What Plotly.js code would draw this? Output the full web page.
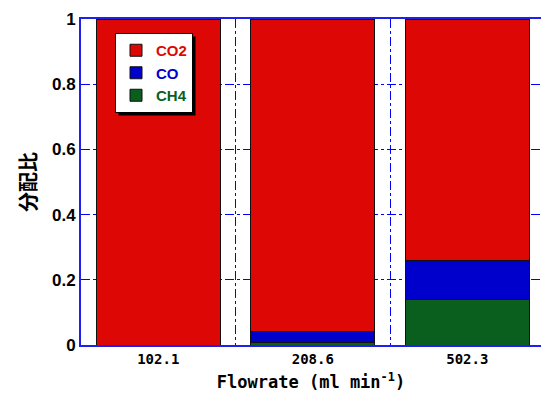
<!DOCTYPE html>
<html>
<head>
<meta charset="utf-8">
<script src="https://cdn.plot.ly/plotly-3.0.1.min.js"></script>
<style>html,body{margin:0;padding:0;background:#fff;}</style>
</head>
<body>
<div id="chart" style="width:541px;height:397px;"></div>
<script>
const categories = ["102.1", "208.6", "502.3"];
const ch4 = [0.0, 0.008, 0.14];
const co = [0.0, 0.033, 0.12];
const co2 = [1.0, 0.959, 0.74];

const red = "#dd0805", blue = "#0000cc", green = "#0a5f1f";
const line = {color: "#111", width: 1};

const traces = [
  {type: "bar", name: '<span style="color:' + green + '">CH4</span>', x: categories, y: ch4, marker: {color: green, line: line}, width: 0.8},
  {type: "bar", name: '<span style="color:' + blue + '">CO</span>', x: categories, y: co, marker: {color: blue, line: line}, width: 0.8},
  {type: "bar", name: '<span style="color:' + red + '">CO2</span>', x: categories, y: co2, marker: {color: red, line: line}, width: 0.8}
];

const L = 81, T = 19, W = 460, H = 326;
const layout = {
  width: 541, height: 397,
  margin: {l: L, r: 0, t: T, b: 52, autoexpand: false},
  barmode: "stack",
  plot_bgcolor: "#fff", paper_bgcolor: "#fff",
  showlegend: true,
  legend: {
    x: (115 - L)/W, xanchor: "left", y: (H + T - 33)/H, yanchor: "top",
    bgcolor: "#fff", bordercolor: "#000", borderwidth: 1,
    traceorder: "reversed",
    font: {family: "Liberation Sans Narrow, Liberation Sans, sans-serif", size: 15, color: "#000", weight: "bold"},
    itemwidth: 30, tracegroupgap: 0
  },
  xaxis: {
    type: "category", range: [-0.5, 2.477],
    tickson: "boundaries", ticks: "", showgrid: true,
    gridcolor: "#0000ff", griddash: "dashdot", gridwidth: 1,
    showline: true, linecolor: "#2020ee", linewidth: 2, mirror: true,
    tickfont: {family: "DejaVu Sans Mono, monospace", size: 14, color: "#000", weight: "bold"},
    title: {text: "Flowrate (ml min<sup>-1</sup>)", font: {family: "DejaVu Sans Mono, monospace", size: 17, color: "#000", weight: "bold"}, standoff: 10}
  },
  yaxis: {
    range: [0, 1], dtick: 0.2, ticks: "",
    showgrid: true, gridcolor: "#0000ff", griddash: "dashdot", gridwidth: 1,
    zeroline: false,
    showline: true, linecolor: "#2020ee", linewidth: 2, mirror: true,
    tickfont: {family: "Liberation Sans, Arial, sans-serif", size: 17, color: "#000", weight: "bold"},
    title: {text: "<b>分配比</b>", font: {family: "Noto Sans CJK JP, sans-serif", size: 20, color: "#000"}, standoff: 10}
  }
};

const gd = document.getElementById("chart");
Plotly.newPlot(gd, traces, layout, {displayModeBar: false, staticPlot: true}).then(function () {
  const bg = gd.querySelector(".legend .bg");
  if (!bg) return;
  const r = bg.getBoundingClientRect();
  const g = gd.getBoundingClientRect();
  const x0 = r.left - g.left + 3, x1 = r.right - g.left + 3;
  const yTop = r.top - g.top + 3, yBot = r.bottom - g.top + 3;
  return Plotly.relayout(gd, {shapes: [{
    type: "rect", xref: "paper", yref: "paper", layer: "above",
    x0: (x0 - L)/W, x1: (x1 - L)/W,
    y0: (H + T - yBot)/H, y1: (H + T - yTop)/H,
    fillcolor: "#000", line: {width: 0}
  }]});
});
</script>
</body>
</html>
